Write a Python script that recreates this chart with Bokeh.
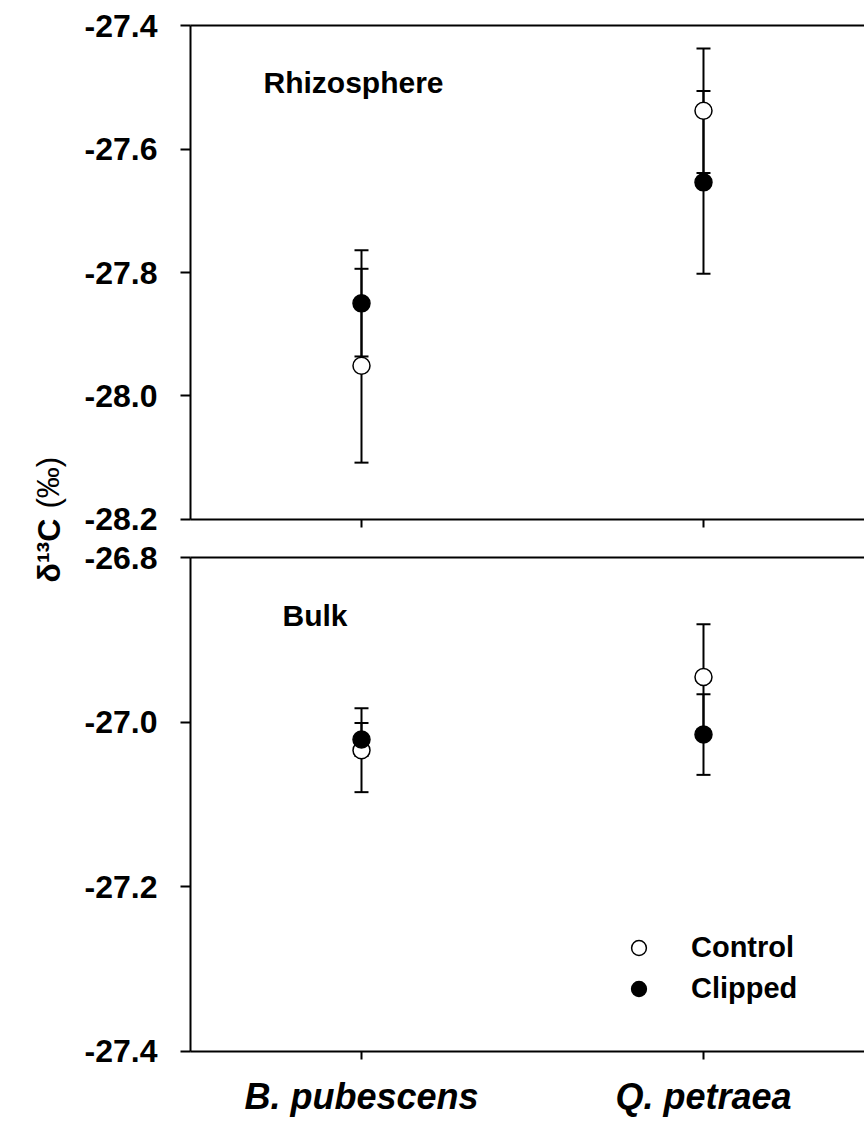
import numpy as np
from bokeh.plotting import figure
from bokeh.models import (ColumnDataSource, Whisker, TeeHead, Range1d, FixedTicker,
                          LinearAxis, Label, Legend, LegendItem, NumeralTickFormatter)
from bokeh.layouts import row, column
from bokeh.embed import file_html
from bokeh.resources import INLINE

# ---------------- data ----------------
categories = ["B. pubescens", "Q. petraea"]

rhizo_control = [-27.951, -27.538]
rhizo_control_err = [0.157, 0.101]
rhizo_clipped = [-27.850, -27.654]
rhizo_clipped_err = [0.086, 0.148]

bulk_control = [-27.034, -26.945]
bulk_control_err = [0.051, 0.064]
bulk_clipped = [-27.021, -27.015]
bulk_clipped_err = [0.020, 0.049]

top_ticks = [-28.2, -28.0, -27.8, -27.6, -27.4]
bottom_ticks = [-27.4, -27.2, -27.0, -26.8]

series_names = ["Control", "Clipped"]
panel_titles = ["Rhizosphere", "Bulk"]
y_label_main = "δ¹³C"
y_label_unit = "(‰)"

FONT = "Liberation Sans"
XPOS = list(range(1, len(categories) + 1))

LAB_W = 78
FIG_W = 786
TOP_H = 538
BOT_H = 582
TOTAL_H = TOP_H + BOT_H


def make_panel(ctrl, ctrl_err, clip, clip_err, yticks, height, b_top, b_bottom,
               show_xlabels, title, title_xy):
    p = figure(width=FIG_W, height=height,
               x_range=Range1d(0.5, 2.4708),
               y_range=Range1d(yticks[0] - 1e-4, yticks[-1] + 1e-4),
               output_backend="svg", toolbar_location=None,
               min_border_left=112, min_border_right=0,
               min_border_top=b_top, min_border_bottom=b_bottom)
    p.outline_line_color = None
    p.grid.visible = False
    p.background_fill_color = "white"
    p.border_fill_color = "white"

    # y axis
    p.yaxis.ticker = FixedTicker(ticks=yticks)
    p.yaxis.formatter = NumeralTickFormatter(format="0.0")
    p.yaxis.major_tick_out = 10
    p.yaxis.major_tick_in = 0
    p.yaxis.minor_tick_line_color = None
    p.yaxis.axis_line_width = 2
    p.yaxis.major_tick_line_width = 2
    p.yaxis.major_label_standoff = 23
    p.yaxis.major_label_text_font = FONT
    p.yaxis.major_label_text_font_style = "bold"
    p.yaxis.major_label_text_font_size = "32px"
    p.yaxis.major_label_text_color = "black"

    # x axis
    p.xaxis.ticker = FixedTicker(ticks=XPOS)
    p.xaxis.major_tick_out = 8
    p.xaxis.major_tick_in = 0
    p.xaxis.minor_tick_line_color = None
    p.xaxis.axis_line_width = 2
    p.xaxis.major_tick_line_width = 2
    if show_xlabels:
        p.xaxis.major_label_overrides = {xp: c for xp, c in zip(XPOS, categories)}
        p.xaxis.major_label_standoff = 16
        p.xaxis.major_label_text_font = FONT
        p.xaxis.major_label_text_font_style = "bold italic"
        p.xaxis.major_label_text_font_size = "36px"
        p.xaxis.major_label_text_color = "black"
    else:
        p.xaxis.major_label_overrides = {xp: "" for xp in XPOS}
        p.xaxis.major_label_standoff = 0
        p.xaxis.major_label_text_font_size = "8px"

    # top frame line
    top_axis = LinearAxis(ticker=FixedTicker(ticks=[]), major_tick_out=0, major_tick_in=0,
                          minor_tick_out=0, minor_tick_in=0, axis_line_width=2)
    p.add_layout(top_axis, "above")

    # error bars
    for vals, errs in ((ctrl, ctrl_err), (clip, clip_err)):
        src = ColumnDataSource(dict(
            x=XPOS,
            lower=[v - e for v, e in zip(vals, errs)],
            upper=[v + e for v, e in zip(vals, errs)]))
        w = Whisker(base="x", lower="lower", upper="upper", source=src,
                    line_width=2, line_color="black", level="underlay",
                    upper_head=TeeHead(size=14, line_width=2, line_color="black"),
                    lower_head=TeeHead(size=14, line_width=2, line_color="black"))
        p.add_layout(w)

    r_ctrl = p.scatter(XPOS, ctrl, marker="circle", size=17, fill_color="white",
                       line_color="black", line_width=1.5)
    r_clip = p.scatter(XPOS, clip, marker="circle", size=17, fill_color="black",
                       line_color="black", line_width=1.5)

    p.add_layout(Label(x=title_xy[0], y=title_xy[1], x_units="screen", y_units="screen",
                       text=title, text_font=FONT, text_font_style="bold",
                       text_font_size="30px", text_color="black",
                       text_align="left", text_baseline="alphabetic"))
    return p, r_ctrl, r_clip


top, _, _ = make_panel(rhizo_control, rhizo_control_err, rhizo_clipped, rhizo_clipped_err,
                       top_ticks, TOP_H, 25, 19, False, panel_titles[0], (73, 437))
bottom, rc, rk = make_panel(bulk_control, bulk_control_err, bulk_clipped, bulk_clipped_err,
                            bottom_ticks, BOT_H, 19, 69, True, panel_titles[1], (92, 436))

legend = Legend(items=[LegendItem(label=series_names[0], renderers=[rc]),
                       LegendItem(label=series_names[1], renderers=[rk])],
                location=(430, 44), border_line_color=None, background_fill_alpha=0,
                padding=0, margin=0, spacing=4, glyph_width=37, glyph_height=37,
                label_standoff=34, label_text_font=FONT, label_text_font_style="bold",
                label_text_font_size="29px", label_text_color="black", label_height=37)
bottom.add_layout(legend)

# y-axis title in a narrow side figure
lab = figure(width=LAB_W, height=TOTAL_H, x_range=Range1d(0, LAB_W),
             y_range=Range1d(0, TOTAL_H),
             output_backend="svg", toolbar_location=None, min_border=0)
lab.axis.visible = False
lab.grid.visible = False
lab.outline_line_color = None
lab.add_layout(Label(x=48, y=TOTAL_H - 582, angle=np.pi / 2, text=y_label_main,
                     text_font=FONT, text_font_style="bold", text_font_size="32px",
                     text_color="black", text_align="left", text_baseline="alphabetic"))
lab.add_layout(Label(x=48, y=TOTAL_H - 508, angle=np.pi / 2, text=y_label_unit,
                     text_font=FONT, text_font_style="normal", text_font_size="31px",
                     text_color="black", text_align="left", text_baseline="alphabetic"))

layout = row(lab, column(top, bottom))

open("out.html", "w").write(file_html(layout, INLINE))
